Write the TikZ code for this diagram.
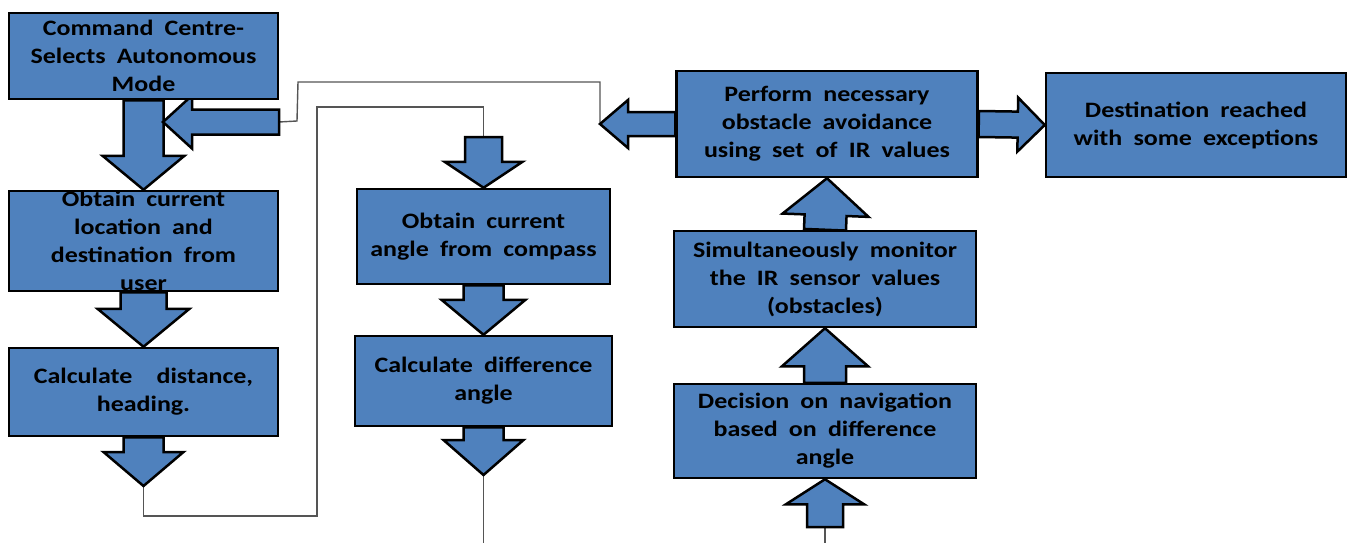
\documentclass[tikz,border=0pt]{standalone}
\usepackage{fontspec}
\setmainfont{Carlito}[FakeStretch=1.18, WordSpace=1.9]
\usetikzlibrary{calc}

\definecolor{boxblue}{RGB}{79,129,189}
\definecolor{wiregray}{RGB}{85,85,85}

\pgfdeclarelayer{back}
\pgfsetlayers{back,main}

% tail, tip, half shaft, half head, head length
\newcommand{\fatarrow}[5]{%
  \coordinate (fa-h) at ($(#2)!#5!(#1)$);
  \draw[fat] ($(#1)!#3!90:(#2)$) -- ($(fa-h)!#3!-90:(#1)$) -- ($(fa-h)!#4!-90:(#1)$)
    -- (#2) -- ($(fa-h)!#4!90:(#1)$) -- ($(fa-h)!#3!90:(#1)$) -- ($(#1)!#3!-90:(#2)$) -- cycle;
}

\begin{document}
\begin{tikzpicture}[x=1pt, y=-1pt,
    box/.style = {draw=black, line width=2.5pt, fill=boxblue, inner sep=0pt, align=center,
      font=\bfseries\fontsize{22}{28}\selectfont},
    fat/.style = {draw=black, line width=2.5pt, fill=boxblue, line join=miter},
    wire/.style = {draw=wiregray, line width=1.4pt}]

	\useasboundingbox (0,0) rectangle (1351,543);

	% left column
	\node[box, minimum width=269pt, minimum height=86pt] (cmd) at (143.5,56) {Command Centre-\\Selects Autonomous\\Mode};
	\node[box, minimum width=269pt, minimum height=100pt] (loc) at (143.5,241) {Obtain current\\location and\\destination from\\user};
	\node[box, minimum width=269pt, minimum height=88pt] (dist) at (143.5,392) {Calculate\hspace{1.1em}distance,\\heading.};

	% middle column
	\node[box, minimum width=253pt, minimum height=95pt] (compass) at (483.5,236.5) {Obtain current\\angle from compass};
	\node[box, minimum width=257pt, minimum height=90pt] (diff) at (483.5,381) {Calculate difference\\angle};

	% right column
	\node[box, minimum width=301pt, minimum height=106pt] (perform) at (827,124) {Perform necessary\\obstacle avoidance\\using set of IR values};
	\node[box, minimum width=302pt, minimum height=96pt] (simult) at (825,279) {Simultaneously monitor\\the IR sensor values\\(obstacles)};
	\node[box, minimum width=302pt, minimum height=94pt] (decision) at (825,431) {Decision on navigation\\based on difference\\angle};
	\node[box, minimum width=300pt, minimum height=104pt] (dest) at (1196,125) {Destination reached\\with some exceptions};

	\coordinate (ltail) at (279,122);
	\coordinate (ltip) at (163,122);
	\coordinate (ptip) at (600,124);
	\coordinate (c1) at (143.5,486);
	\coordinate (ctail) at (483.5,137);
	\coordinate (dtip) at (483.5,475);
	\coordinate (dbot) at (825,527);
	\coordinate (end1) at (483.5,543);
	\coordinate (end2) at (825,543);

	\begin{pgfonlayer}{back}
		\draw[wire] (ltail) -- (297,121) -- (298,82) -| (ptip);
		\draw[wire] (c1) |- (317,516) -- (317,107) -| (ctail);
		\draw[wire] (dtip) -- (end1);
		\draw[wire] (dbot) -- (end2);

		\fatarrow{cmd.south}{loc.north}{20pt}{41pt}{34pt}
		\fatarrow{loc.south}{dist.north}{23pt}{46pt}{38pt}
		\fatarrow{dist.south}{c1}{20pt}{40pt}{34pt}
		\fatarrow{ltail}{ltip}{12.5pt}{26.5pt}{29pt}
		\fatarrow{ctail}{compass.north}{18.5pt}{39pt}{26pt}
		\fatarrow{compass.south}{diff.north}{20pt}{42pt}{35pt}
		\fatarrow{diff.south}{dtip}{20pt}{40pt}{35pt}
		\fatarrow{perform.west}{ptip}{12pt}{24pt}{28pt}
		\fatarrow{perform.east}{dest.west}{13pt}{27pt}{27pt}
		\fatarrow{simult.north}{perform.south}{21pt}{43pt}{37pt}
		\fatarrow{decision.north}{simult.south}{21pt}{43pt}{38pt}
		\fatarrow{dbot}{decision.south}{18pt}{39pt}{25pt}
	\end{pgfonlayer}

\end{tikzpicture}
\end{document}
